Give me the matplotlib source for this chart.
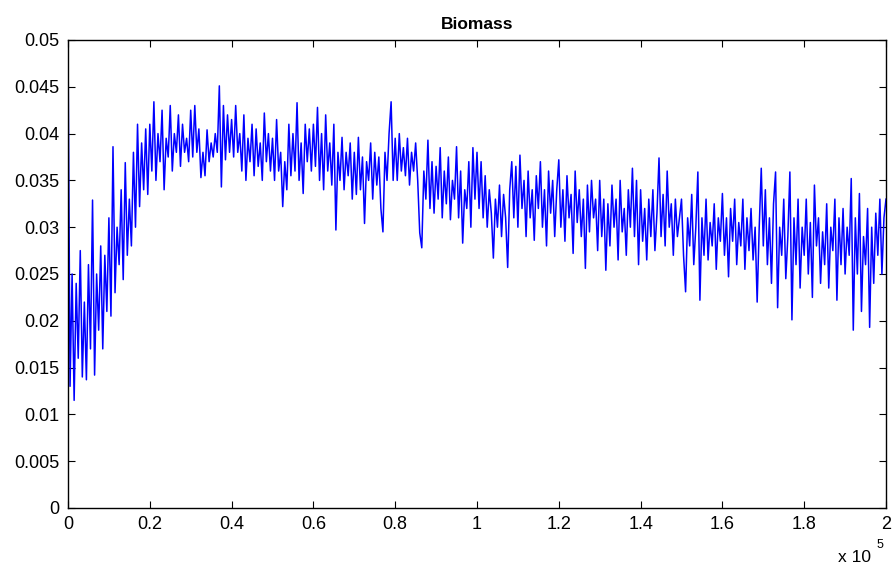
import numpy as np
import matplotlib
matplotlib.use("Agg")
import matplotlib.pyplot as plt

plt.rcParams['font.family'] = ['Liberation Sans', 'DejaVu Sans']

# Time steps (sampled every 500)
step = 500
# Biomass values in thousandths (one every 500 time units)
biomass_e3 = [
    50, 13, 25, 11.5, 24, 16, 27.5, 14, 22, 13.7, 26, 17, 32.9, 14.2, 25, 19, 28, 17, 27, 21,
    31, 20.5, 38.6, 23, 30, 26, 34, 24.4, 36.9, 27, 33, 28, 38, 30, 41, 32.2, 39, 34, 40.5, 33.5,
    41, 36, 43.4, 35, 40, 37, 42.5, 34, 39.5, 37.5, 43, 36, 40, 38, 42, 36.5, 41, 38, 39.5, 37,
    42.5, 37.5, 43, 38, 40.5, 35.3, 38, 35.5, 40.4, 37, 39, 37.5, 40, 38, 45.1, 34.3, 43, 37.2, 42, 38,
    41.5, 37.5, 43, 38, 40, 36, 42, 35, 39.5, 37, 41, 35.5, 40.5, 36.5, 39, 35, 42.2, 37, 40, 36,
    39.5, 35, 41.5, 36, 38, 32.2, 37, 34, 41, 35.5, 40, 36, 43.3, 35, 39, 33.6, 41, 37, 40.5, 36,
    41, 36.5, 42.8, 35, 40, 34, 42, 36, 39, 34.5, 41, 29.7, 38, 35, 39.6, 34, 38, 35.5, 39, 33,
    38, 33.5, 39.6, 34, 37.5, 30.4, 37, 35, 39, 33, 38, 34.5, 37.5, 32, 29.5, 38, 35, 40, 43.4, 35,
    39.5, 35, 40, 36, 38.5, 35.5, 39.5, 34.5, 38, 36, 39, 35, 29.4, 27.8, 36, 33, 39.3, 32, 37, 31.5,
    36.5, 33, 38.5, 31, 36, 32.5, 37.5, 30.8, 35, 33, 38.6, 31, 36, 28.3, 34, 32, 37, 30, 38.5, 33,
    38, 32, 37, 31, 35.5, 30, 34, 31.5, 26.7, 33, 30, 34.5, 29, 33.5, 31, 25.7, 34, 37, 31, 36.5,
    30, 37.7, 32, 35, 29, 36, 31, 34, 28.6, 35.5, 32, 37, 30, 34, 28, 36, 31.5, 35, 29, 34,
    37.2, 30, 34, 28.5, 35.5, 31, 33.5, 27.2, 36, 30.5, 34, 29, 33, 25.6, 34.5, 29.5, 35, 31, 33, 27.5,
    35, 29, 33, 25.4, 32.5, 28, 34.5, 30, 33, 26.5, 35, 29.5, 32, 27, 34, 30, 36.3, 29, 35, 26,
    34, 28.5, 32, 26.5, 33, 29, 34, 27.5, 31.5, 37.4, 29, 33.5, 28, 36, 30, 32.5, 27, 33, 29, 31,
    33, 27, 23.1, 31, 28, 33.5, 26, 30, 35.9, 22.2, 31, 27, 33, 26.5, 30.5, 28, 32.5, 25.5, 31, 28.5,
    33.6, 27, 31, 24.7, 32, 28.5, 33, 26, 30.5, 28, 33, 25.5, 31, 27.5, 32, 26.5, 30, 22, 30, 36.3,
    28, 34, 26, 31, 24, 32.5, 35.9, 21.4, 30, 27, 33, 24.5, 29, 35.9, 20.1, 31, 26, 33, 23.5, 30,
    27, 33, 25, 30.5, 22.5, 34.5, 28, 31, 24, 29.5, 26, 32.5, 23.5, 30, 27.5, 33, 22.2, 31, 26, 32,
    25, 30, 27, 35.2, 19, 31, 25, 33.6, 21, 29, 26, 32, 19.3, 30, 24, 31.5, 27, 33, 25, 31,
    33,
]
biomass = np.array(biomass_e3) / 1000.0
time = np.arange(len(biomass)) * step

xtick_vals = [0, 20000, 40000, 60000, 80000, 100000, 120000, 140000, 160000, 180000, 200000]
xtick_labels = ["0", "0.2", "0.4", "0.6", "0.8", "1", "1.2", "1.4", "1.6", "1.8", "2"]
ytick_vals = [0, 0.005, 0.01, 0.015, 0.02, 0.025, 0.03, 0.035, 0.04, 0.045, 0.05]
ytick_labels = ["0", "0.005", "0.01", "0.015", "0.02", "0.025", "0.03", "0.035", "0.04", "0.045", "0.05"]

fig = plt.figure(figsize=(8.96, 5.77), dpi=100)
ax = fig.add_axes([68/896, (577-508)/577, (886-68)/896, (508-40)/577])
ax.plot(time, biomass, color=(0, 0, 1), linewidth=1.1)

ax.set_xlim(0, 200000)
ax.set_ylim(0, 0.05)
ax.set_xticks(xtick_vals)
ax.set_xticklabels(xtick_labels)
ax.set_yticks(ytick_vals)
ax.set_yticklabels(ytick_labels)
ax.tick_params(direction='in', length=5, width=0.8, labelsize=13,
               top=True, right=True, pad=6)
for s in ax.spines.values():
    s.set_linewidth(1.0)
    s.set_color('black')

ax.set_title("Biomass", fontsize=12.5, fontweight='bold', pad=8)

fig.text(838/896, 1 - 557/577, "x 10", fontsize=12.5, ha='left', va='center')
fig.text(877/896, 1 - 545/577, "5", fontsize=9, ha='left', va='center')

fig.savefig("out.png", dpi=100)
